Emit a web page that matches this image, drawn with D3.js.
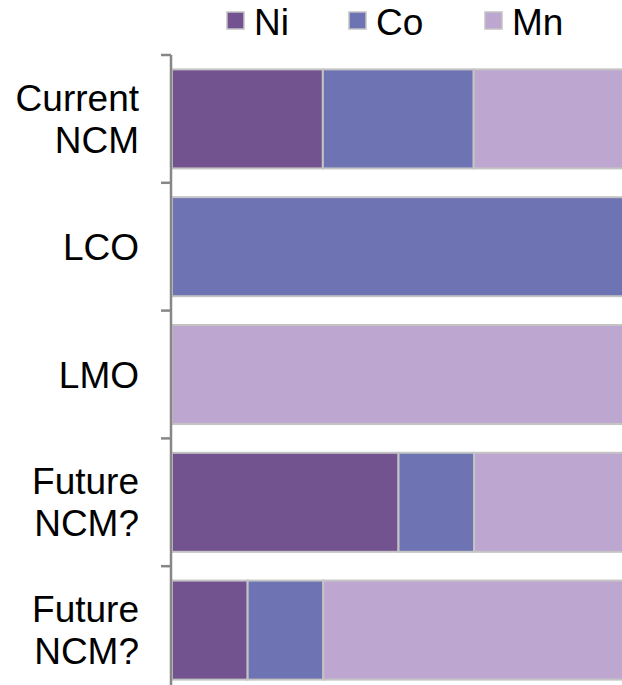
<!DOCTYPE html>
<html>
<head>
<meta charset="utf-8">
<script src="https://cdn.jsdelivr.net/npm/d3@7"></script>
<style>
  html, body { margin: 0; padding: 0; background: #fff; }
  svg { display: block; }
  text { font-family: "Liberation Sans", Arial, sans-serif; fill: #000; }
</style>
</head>
<body>
<script>
// Cathode chemistries and their metal shares (percent of transition metal)
const categories = ["Current NCM", "LCO", "LMO", "Future NCM?", "Future NCM?"];
const categoryLines = [["Current", "NCM"], ["LCO"], ["LMO"], ["Future", "NCM?"], ["Future", "NCM?"]];
const seriesNames = ["Ni", "Co", "Mn"];
const niValues = [33.3, 0, 0, 50, 16.7];
const coValues = [33.3, 100, 0, 16.7, 16.7];
const mnValues = [33.4, 0, 100, 33.3, 66.6];
const seriesColors = ["#72538f", "#6e74b3", "#bda6d0"];

const W = 622, H = 685;
const svg = d3.select("body").append("svg").attr("width", W).attr("height", H);

const rows = categories.map((c, i) => ({ key: i, Ni: niValues[i], Co: coValues[i], Mn: mnValues[i] }));
const stacked = d3.stack().keys(seriesNames)(rows);

const x = d3.scaleLinear().domain([0, 100]).range([172, 625]);
const y = d3.scaleBand().domain(d3.range(categories.length)).range([55, 694])
  .paddingInner(0.225).paddingOuter(0.1125);
const color = d3.scaleOrdinal().domain(seriesNames).range(seriesColors);

// stacked bars
svg.append("g").selectAll("g").data(stacked).join("g")
  .attr("fill", d => color(d.key))
  .selectAll("rect").data(d => d.filter(p => p[1] - p[0] > 0)).join("rect")
  .attr("x", d => x(d[0]))
  .attr("y", d => y(d.data.key))
  .attr("width", d => x(d[1]) - x(d[0]))
  .attr("height", y.bandwidth())
  .attr("stroke", "#c4c4c4")
  .attr("stroke-width", 2);

// category axis with ticks on the band boundaries
const axisG = svg.append("g");
const bounds = d3.range(categories.length + 1).map(i => 55 + i * y.step());
axisG.append("line")
  .attr("x1", 171).attr("x2", 171).attr("y1", 55).attr("y2", 694)
  .attr("stroke", "#878787").attr("stroke-width", 2.5);
axisG.selectAll("line.tick").data(bounds).join("line").attr("class", "tick")
  .attr("x1", 161).attr("x2", 171).attr("y1", d => d).attr("y2", d => d)
  .attr("stroke", "#878787").attr("stroke-width", 2.5);

// category labels
const fs = 37, lh = 42;
const labels = svg.append("g").attr("text-anchor", "end").attr("font-size", fs);
categoryLines.forEach((lines, i) => {
  const cy = y(i) + y.bandwidth() / 2;
  const t = labels.append("text").attr("x", 139);
  lines.forEach((ln, j) => {
    const off = (j - (lines.length - 1) / 2) * lh;
    t.append("tspan").attr("x", 139).attr("y", cy + off + 13).text(ln);
  });
});

// legend
const legendX = [226, 348, 484];
const lg = svg.append("g").selectAll("g").data(seriesNames).join("g")
  .attr("transform", (d, i) => `translate(${legendX[i]},0)`);
lg.append("rect").attr("x", 1).attr("y", 12).attr("width", 17).attr("height", 17)
  .attr("fill", d => color(d)).attr("stroke", "#c4c4c4").attr("stroke-width", 1.5);
lg.append("text").attr("x", 28).attr("y", 35).attr("font-size", fs).text(d => d);
</script>
</body>
</html>
